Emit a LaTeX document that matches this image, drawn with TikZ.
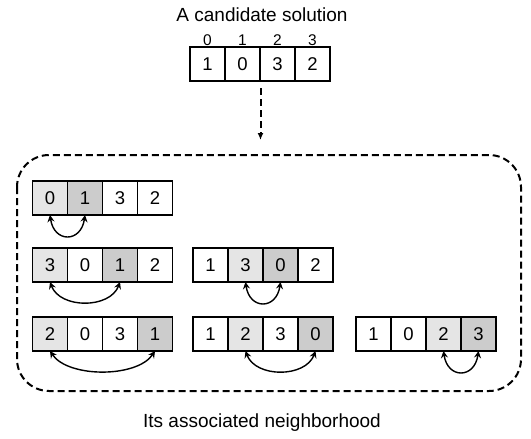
\documentclass[tikz,border=0pt]{standalone}
\usepackage{fontspec}
\setmainfont{Liberation Sans}
\usetikzlibrary{arrows.meta}
\definecolor{swapa}{gray}{0.9}
\definecolor{swapb}{gray}{0.8}
\tikzset{
  cell/.style={draw, line width=1.3pt, minimum width=35pt, minimum height=34pt,
    inner sep=0pt, outer sep=0pt, font=\fontsize{18.5}{20}\selectfont},
  swap/.style={{Stealth[length=7pt,width=7pt,inset=2.5pt]}-{Stealth[length=7pt,width=7pt,inset=2.5pt]}, line width=1.4pt},
  hoodline/.style={line width=2pt, dash pattern=on 7pt off 4pt},
}

\begin{document}
\begin{tikzpicture}[x=1pt,y=-1pt]
\useasboundingbox (0,0) rectangle (531,439);
\node[anchor=base, font=\fontsize{19}{22}\selectfont] (title) at (262,21) {A candidate solution};
\foreach \v [count=\i from 0] in {1,0,3,2} {
  \node[cell] (s\i) at (207.5+35*\i,64) {\v};
  \node[anchor=base, font=\fontsize{15.5}{17}\selectfont] (idx\i) at (207.5+35*\i,45.5) {\i};
}

\coordinate (from) at (260.5,88);
\coordinate (tip) at (260.5,140);
\draw[hoodline, -{Latex[length=7pt,width=6pt]}] (from) -- (tip);
\draw[hoodline, rounded corners=32pt] (17,155) rectangle (521,391);

% first row
\foreach \v/\f [count=\i from 0] in {0/swapa,1/swapb,3/white,2/white}
  \node[cell, fill=\f] (a\i) at (50+35*\i,198) {\v};
\draw[swap] (a0.south) .. controls +(4,28) and +(-4,28) .. (a1.south);

% second row
\foreach \v/\f [count=\i from 0] in {3/swapa,0/white,1/swapb,2/white}
  \node[cell, fill=\f] (b\i) at (50+35*\i,265) {\v};
\draw[swap] (b0.south) .. controls +(10,27) and +(-10,27) .. (b2.south);
\foreach \v/\f [count=\i from 0] in {1/white,3/swapa,0/swapb,2/white}
  \node[cell, fill=\f] (c\i) at (210.5+35*\i,265) {\v};
\draw[swap] (c1.south) .. controls +(4,28) and +(-4,28) .. (c2.south);

% third row
\foreach \v/\f [count=\i from 0] in {2/swapa,0/white,3/white,1/swapb}
  \node[cell, fill=\f] (d\i) at (50+35*\i,334) {\v};
\draw[swap] (d0.south) .. controls +(18,27) and +(-18,27) .. (d3.south);
\foreach \v/\f [count=\i from 0] in {1/white,2/swapa,3/white,0/swapb}
  \node[cell, fill=\f] (e\i) at (210.5+35*\i,334) {\v};
\draw[swap] (e1.south) .. controls +(10,27) and +(-10,27) .. (e3.south);
\foreach \v/\f [count=\i from 0] in {1/white,0/white,2/swapa,3/swapb}
  \node[cell, fill=\f] (g\i) at (373.5+35*\i,334) {\v};
\draw[swap] (g2.south) .. controls +(4,28) and +(-4,28) .. (g3.south);

\node[anchor=base, font=\fontsize{19}{22}\selectfont] (label) at (262,427) {Its associated neighborhood};
\end{tikzpicture}
\end{document}
